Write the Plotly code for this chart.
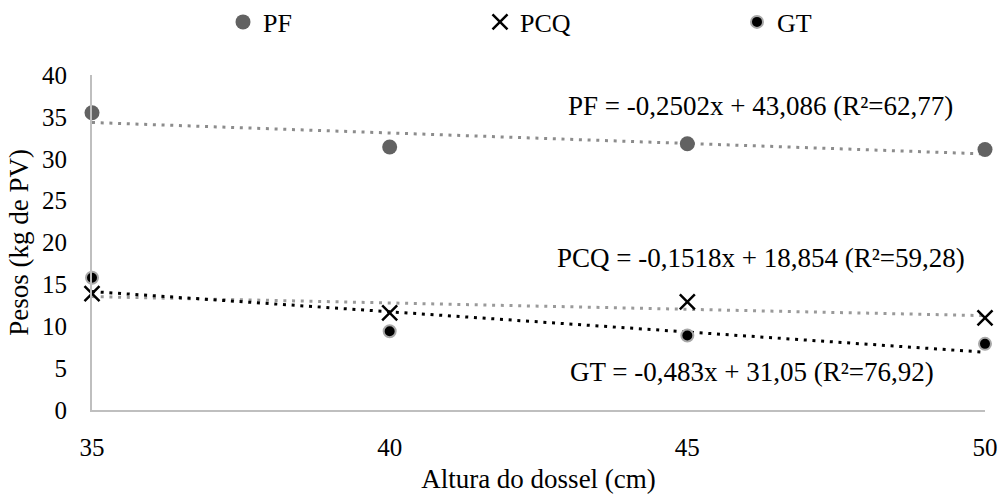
import plotly.graph_objects as go

heights = [35, 40, 45, 50]
pf = [35.5, 31.4, 31.8, 31.1]
pcq = [13.9, 11.6, 12.9, 11.0]
gt = [15.8, 9.4, 8.9, 7.9]

# trendline coefficients as printed on the chart
pf_coef = (-0.2502, 43.086)
pcq_coef = (-0.1518, 18.854)
gt_coef = (-0.483, 31.05)

eq_texts = [
    "PF = -0,2502x + 43,086 (R²=62,77)",
    "PCQ = -0,1518x + 18,854 (R²=59,28)",
    "GT = -0,483x + 31,05 (R²=76,92)",
]

FONT = "Liberation Serif, Times New Roman, serif"

W, H = 1000, 494
ML, MR, MT, MB = 92, 15, 75, 84

fig = go.Figure()

def trend(coef):
    xs = [heights[0], heights[-1]]
    return xs, [coef[0] * x + coef[1] for x in xs]

for coef, col in [(pf_coef, "#8c8c8c"), (pcq_coef, "#9a9a9a"), (gt_coef, "#000000")]:
    xs, ys = trend(coef)
    fig.add_trace(go.Scatter(x=xs, y=ys, mode="lines", showlegend=False, hoverinfo="skip",
                             line=dict(color=col, width=3, dash="3px,5.7px"), cliponaxis=False))

fig.add_trace(go.Scatter(x=heights, y=pf, mode="markers", name="PF", cliponaxis=False,
                         marker=dict(symbol="circle", size=15, color="#626262")))
fig.add_trace(go.Scatter(x=heights, y=pcq, mode="markers", name="PCQ", cliponaxis=False,
                         marker=dict(symbol="x-thin", size=15, color="#000000",
                                     line=dict(color="#000000", width=2.5))))
fig.add_trace(go.Scatter(x=heights, y=gt, mode="markers", name="GT", cliponaxis=False,
                         marker=dict(symbol="circle", size=12, color="#000000",
                                     line=dict(color="#a8a8a8", width=2))))

pw, ph = W - ML - MR, H - MT - MB

def px_to_paper(x, y):
    return (x - ML) / pw, (H - MB - y) / ph

ann_pos = [(760, 106), (761, 258), (752, 372)]
annotations = []
for txt, (ax, ay) in zip(eq_texts, ann_pos):
    px, py = px_to_paper(ax, ay)
    annotations.append(dict(x=px, y=py, xref="paper", yref="paper", text=txt, showarrow=False,
                            xanchor="center", yanchor="middle",
                            font=dict(family=FONT, size=27, color="#000000")))

fig.update_layout(
    template="none",
    width=W, height=H,
    margin=dict(l=ML, r=MR, t=MT, b=MB, autoexpand=False),
    paper_bgcolor="white", plot_bgcolor="white",
    font=dict(family=FONT, size=25, color="#000000"),
    legend=dict(orientation="h", xref="container", yref="container",
                x=0.223, xanchor="left", y=1 - 22 / H, yanchor="middle",
                entrywidth=212, entrywidthmode="pixels", itemwidth=30,
                font=dict(family=FONT, size=26), bgcolor="rgba(0,0,0,0)"),
    xaxis=dict(range=[35, 50], tickvals=heights, ticktext=[str(h) for h in heights],
               automargin=False,
               showgrid=False, zeroline=False, showline=True, linecolor="#bfbfbf", linewidth=2,
               ticks="", ticklabelstandoff=14, tickfont=dict(size=25),
               title=dict(text="Altura do dossel (cm)", font=dict(family=FONT, size=27), standoff=14)),
    yaxis=dict(range=[0, 40], dtick=5, showgrid=False, zeroline=False, showline=True,
               automargin=False,
               linecolor="#bfbfbf", linewidth=2, ticks="", ticklabelstandoff=18, tickfont=dict(size=25),
               title=dict(text="Pesos (kg de PV)", font=dict(family=FONT, size=27), standoff=6)),
    annotations=annotations,
)

fig.write_html("out.html", config={"displayModeBar": False},
               post_script="document.body.style.margin='0';document.body.style.overflow='hidden';")
